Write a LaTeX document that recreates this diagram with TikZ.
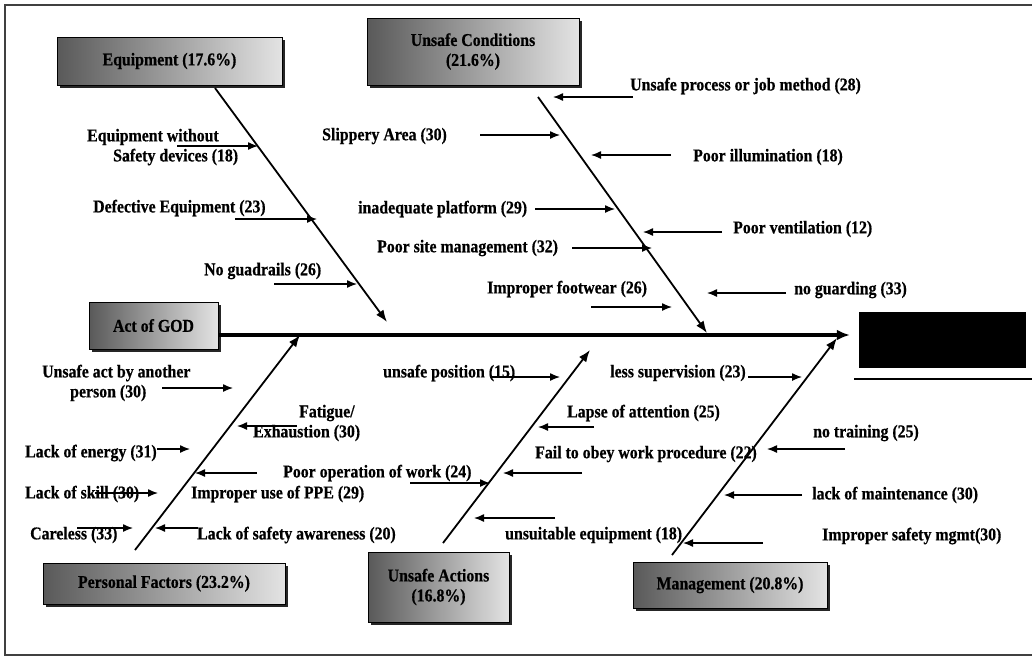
\documentclass[tikz,border=0pt]{standalone}
\usepackage{fontspec}
\setmainfont{Liberation Serif}[FakeStretch=0.88,BoldFeatures={FakeBold=0.6}]
\usetikzlibrary{arrows.meta,shadows}
\newcommand\causearrow[4]{\coordinate (#1s) at (#2,#3);\coordinate (#1e) at (#4,#3);\draw[sub] (#1s) -- (#1e);}
\begin{document}
\begin{tikzpicture}[x=1pt,y=-1pt,
  lbl/.style={anchor=west,inner sep=0pt,font=\fontsize{18}{20}\selectfont\bfseries},
  sub/.style={line width=1.3pt,-{Latex[length=10pt,width=8pt]}},
  bone/.style={line width=1.8pt,-{Latex[length=12pt,width=9pt]}},
  spine/.style={line width=3.8pt,-{Latex[length=13pt,width=11pt]}},
  catbox/.style={draw=black,line width=1pt,left color=gray!70!black,right color=gray!22,
     drop shadow={shadow xshift=3pt,shadow yshift=-3pt,fill=black,opacity=0.85},
     font=\fontsize{18}{20}\selectfont\bfseries,align=center,inner sep=0pt},
  headbox/.style={draw=black,fill=black,inner sep=0pt}]
\useasboundingbox (0,0) rectangle (1032,657);
% frame
\draw[line width=1.5pt,gray!50!black] (1032,5) -- (5,5) -- (5,655) -- (1032,655);

% category boxes
\node[catbox,minimum width=225pt,minimum height=48pt] (eq) at (169.5,61) {Equipment (17.6\%)};
\node[catbox,minimum width=212pt,minimum height=67pt] (uc) at (473,51.5) {Unsafe Conditions\\(21.6\%)};
\node[catbox,minimum width=129pt,minimum height=47pt] (god) at (153.5,325.5) {Act of GOD};
\node[catbox,minimum width=242pt,minimum height=41pt] (pf) at (164,583.5) {Personal Factors (23.2\%)};
\node[catbox,minimum width=141pt,minimum height=70pt] (ua) at (438.5,587) {Unsafe Actions\\(16.8\%)};
\node[catbox,minimum width=194pt,minimum height=46pt] (mg) at (730,585) {Management (20.8\%)};
\node[headbox,minimum width=166pt,minimum height=55pt] (head) at (942,339.5) {};
\coordinate (ulA) at (854,379);
\coordinate (ulB) at (1032,379);
\draw[line width=1.6pt] (ulA) -- (ulB);

% spine
\coordinate (sp) at (0,335);
\draw[spine,shorten >=9pt] (god.east |- sp) -- (head.west |- sp);

% bones
\coordinate (eqS) at (215,88);  \coordinate (eqT) at (387,322);
\coordinate (ucS) at (538,97);  \coordinate (ucT) at (707,333);
\coordinate (pfS) at (135,550); \coordinate (pfT) at (300,335);
\coordinate (uaS) at (443,543); \coordinate (uaT) at (590,350);
\coordinate (mgS) at (672,555); \coordinate (mgT) at (837,338);
\draw[bone] (eqS) -- (eqT);
\draw[bone] (ucS) -- (ucT);
\draw[bone] (pfS) -- (pfT);
\draw[bone] (uaS) -- (uaT);
\draw[bone] (mgS) -- (mgT);

% Equipment causes
\node[lbl] (l1a) at (87,137) {Equipment without};
\node[lbl] (l1b) at (113,157) {Safety devices (18)};
\causearrow{a1}{177}{146}{258}
\node[lbl] (l2) at (93,208) {Defective Equipment (23)};
\causearrow{a2}{235}{219}{317}
\node[lbl] (l3) at (204,271) {No guadrails (26)};
\causearrow{a3}{274}{284}{357}

% Unsafe conditions causes
\node[lbl] (l4) at (322,136) {Slippery Area (30)};
\causearrow{a4}{480}{135}{560}
\node[lbl] (l5) at (358,209) {inadequate platform (29)};
\causearrow{a5}{535}{209}{615}
\node[lbl] (l6) at (377,248) {Poor site management (32)};
\causearrow{a6}{572}{248}{652}
\node[lbl] (l7) at (487,289) {Improper footwear (26)};
\causearrow{a7}{591}{307}{672}
\node[lbl] (l8) at (630,86) {Unsafe process or job method (28)};
\causearrow{a8}{633}{97}{553}
\node[lbl] (l9) at (693,157) {Poor illumination (18)};
\causearrow{a9}{671}{155}{591}
\node[lbl] (l10) at (733,229) {Poor ventilation (12)};
\causearrow{a10}{722}{232}{643}
\node[lbl] (l11) at (794,290) {no guarding (33)};
\causearrow{a11}{786}{293}{707}

% Personal factors causes
\node[lbl] (l12a) at (42,373) {Unsafe act by another};
\node[lbl] (l12b) at (70,393) {person (30)};
\causearrow{a12}{162}{388}{233}
\node[lbl] (l13a) at (299,413) {Fatigue/};
\node[lbl] (l13b) at (253,433) {Exhaustion (30)};
\causearrow{a13}{297}{426}{237}
\node[lbl] (l14) at (25,453) {Lack of energy (31)};
\causearrow{a14}{157}{449}{190}
\causearrow{a15}{257}{473}{195}
\node[lbl] (l16) at (25,494) {Lack of skill (30)};
\causearrow{a16}{95}{493}{158}
\node[lbl] (l17) at (191,494) {Improper use of PPE (29)};
\node[lbl] (l18) at (30,535) {Careless (33)};
\causearrow{a18}{77}{528}{133}
\node[lbl] (l19) at (197,535) {Lack of safety awareness (20)};
\causearrow{a19}{198}{528}{155}

% Unsafe actions causes
\node[lbl] (l20) at (283,473) {Poor operation of work (24)};
\causearrow{a20}{410}{483}{490}
\node[lbl] (l21) at (383,373) {unsafe position (15)};
\causearrow{a21}{490}{377}{560}
\node[lbl] (l22) at (567,413) {Lapse of attention (25)};
\causearrow{a22}{594}{427}{538}
\node[lbl] (l23) at (535,454) {Fail to obey work procedure (22)};
\causearrow{a23}{582}{473}{503}
\node[lbl] (l24) at (505,535) {unsuitable equipment (18)};
\causearrow{a24}{555}{518}{474}

% Management causes
\node[lbl] (l25) at (610,373) {less supervision (23)};
\causearrow{a25}{748}{377}{802}
\node[lbl] (l26) at (813,433) {no training (25)};
\causearrow{a26}{845}{449}{767}
\node[lbl] (l27) at (812,495) {lack of maintenance (30)};
\causearrow{a27}{802}{495}{724}
\node[lbl] (l28) at (822,536) {Improper safety mgmt(30)};
\causearrow{a28}{763}{543}{683}
\end{tikzpicture}
\end{document}
